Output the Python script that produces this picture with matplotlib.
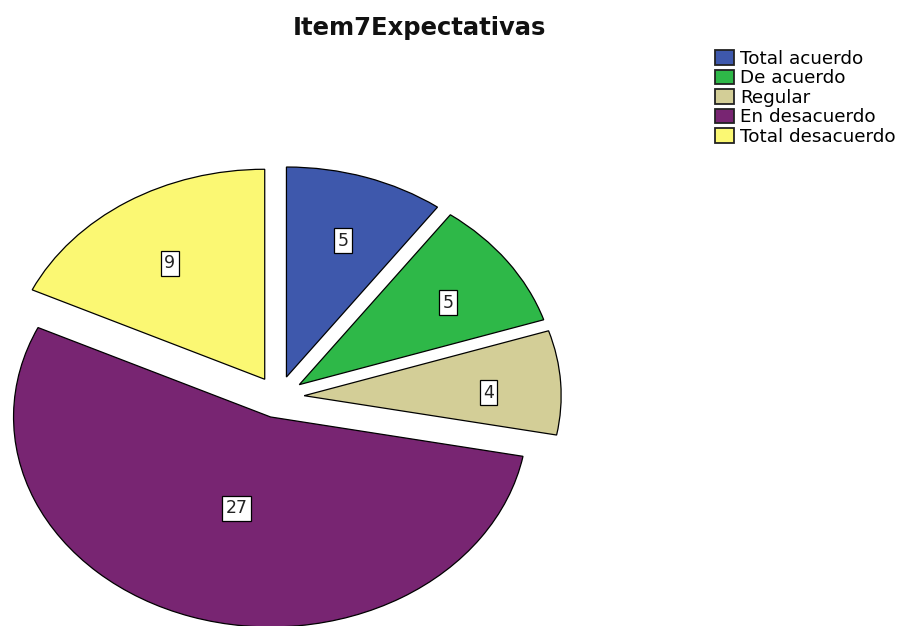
import numpy as np
import matplotlib
matplotlib.use("Agg")
import matplotlib.pyplot as plt

plt.rcParams['font.family'] = ['DejaVu Sans']

categories = ["Total acuerdo", "De acuerdo", "Regular", "En desacuerdo", "Total desacuerdo"]
counts = [5, 5, 4, 27, 9]
colors = ["#3E58AC", "#2EB848", "#D3CE97", "#782572", "#FBF873"]
title = "Item7Expectativas"

W, H = 899, 626
fig = plt.figure(figsize=(W / 100, H / 100), dpi=100)

# pie geometry in pixels
cx, cy = 278.5, 626 - 397
rx, ry = 257, 210
xlim = (-1.09, 1.2)
ylim = (-1.1, 1.15)
left = (cx + xlim[0] * rx) / W
bottom = (cy + ylim[0] * ry) / H
width = (xlim[1] - xlim[0]) * rx / W
height = (ylim[1] - ylim[0]) * ry / H
ax = fig.add_axes([left, bottom, width, height])

explode = [0.1] * len(counts)
wedges, _ = ax.pie(counts, colors=colors, explode=explode, startangle=90,
                   counterclock=False,
                   wedgeprops=dict(edgecolor="black", linewidth=0.9))
for w in wedges:
    w.set_clip_on(False)
ax.set_aspect('auto')
ax.set_xlim(*xlim)
ax.set_ylim(*ylim)
ax.axis('off')

# value labels near each wedge's centroid
for w, v, e in zip(wedges, counts, explode):
    t1, t2 = w.theta1, w.theta2
    mid = np.deg2rad((t1 + t2) / 2)
    half = np.deg2rad((t2 - t1) / 2)
    r = 2 / 3 * np.sin(half) / half * 1.09
    x = (e + r) * np.cos(mid)
    y = (e + r) * np.sin(mid) - 0.03
    ax.text(x, y, str(v), ha='center', va='center', fontsize=12.5, color='#222222',
            bbox=dict(boxstyle='square,pad=0.2', fc='white', ec='black', lw=0.9))

fig.text(419.5 / W, 1 - 28 / H, title, ha='center', va='center',
         fontsize=17.5, fontweight='bold', color='#111111')

leg = fig.legend(handles=wedges, labels=categories, loc='upper left',
                 bbox_to_anchor=(715 / W, 1 - 50 / H), frameon=False,
                 fontsize=13.2, handlelength=1.05, handleheight=0.85,
                 handletextpad=0.3, labelspacing=0.08, borderaxespad=0, borderpad=0)
for p in leg.get_patches():
    p.set_linewidth(1.3)
    p.set_edgecolor('#222222')

fig.savefig("out.png", dpi=100)
